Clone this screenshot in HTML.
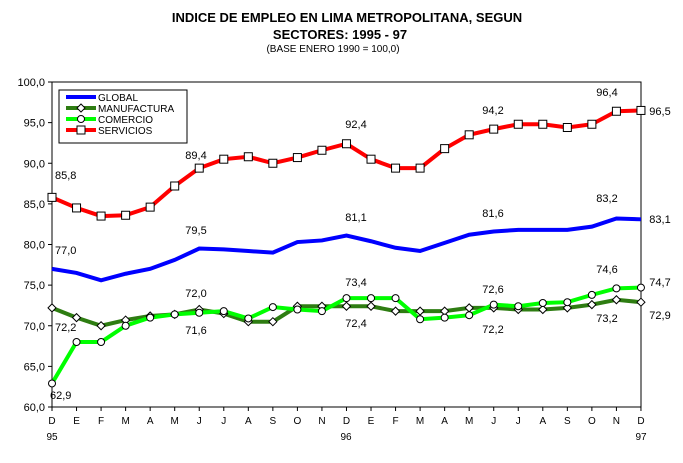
<!DOCTYPE html><html><head><meta charset="utf-8"><style>body{margin:0;background:#fff}svg{display:block;font-family:"Liberation Sans",sans-serif}</style></head><body>
<svg id="s" width="683" height="463" xmlns="http://www.w3.org/2000/svg">
<text x="347" y="22" font-size="13" font-weight="bold" text-anchor="middle">INDICE DE EMPLEO EN LIMA METROPOLITANA, SEGUN</text>
<text x="340" y="39" font-size="13" font-weight="bold" text-anchor="middle">SECTORES: 1995   - 97</text>
<text x="333" y="52" font-size="10" text-anchor="middle">(BASE ENERO 1990 = 100,0)</text>
<g id="g"></g>
</svg>
<script>
var g=document.getElementById('g'),h='';
function Y(v){return 407-(v-60)*8.125}
function X(i){return 52+i*24.54}
h+='<rect x="52" y="82" width="589" height="325" fill="none" stroke="#000" stroke-width="1"/>';
for(var v=60;v<=100;v+=5){var y=Y(v);h+='<line x1="48" x2="52" y1="'+y+'" y2="'+y+'" stroke="#000"/><text x="45" y="'+(y+4)+'" font-size="11" text-anchor="end">'+v.toFixed(1).replace('.',',')+'</text>';}
var L="DEFMAMJJASONDEFMAMJJASOND";
for(var i=0;i<25;i++){var x=X(i);h+='<line x1="'+x+'" x2="'+x+'" y1="407" y2="411" stroke="#000"/><text x="'+x+'" y="424" font-size="10" text-anchor="middle">'+L[i]+'</text>';}
h+='<text x="52" y="440" font-size="10" text-anchor="middle">95</text><text x="346" y="440" font-size="10" text-anchor="middle">96</text><text x="641" y="440" font-size="10" text-anchor="middle">97</text>';
var S=[85.8,84.5,83.5,83.6,84.6,87.2,89.4,90.5,90.8,90.0,90.7,91.6,92.4,90.5,89.4,89.4,91.8,93.5,94.2,94.8,94.8,94.4,94.8,96.4,96.5];
var G=[77.0,76.5,75.6,76.4,77.0,78.1,79.5,79.4,79.2,79.0,80.3,80.5,81.1,80.4,79.6,79.2,80.2,81.2,81.6,81.8,81.8,81.8,82.2,83.2,83.1];
var M=[72.2,71.0,70.0,70.7,71.2,71.4,72.0,71.5,70.5,70.5,72.4,72.4,72.4,72.4,71.8,71.8,71.8,72.2,72.2,72.0,72.0,72.2,72.6,73.2,72.9];
var C=[62.9,68.0,68.0,70.0,71.0,71.4,71.6,71.8,70.9,72.3,72.0,71.8,73.4,73.4,73.4,70.8,71.0,71.3,72.6,72.4,72.8,72.9,73.8,74.6,74.7];
function line(d,c){var p=d.map(function(v,i){return X(i)+','+Y(v)}).join(' ');return '<polyline points="'+p+'" fill="none" stroke="'+c+'" stroke-width="4"/>'}
function sq(x,y){return '<rect x="'+(x-4)+'" y="'+(y-4)+'" width="8" height="8" fill="#fff" stroke="#000"/>'}
function ci(x,y){return '<circle cx="'+x+'" cy="'+y+'" r="3.5" fill="#fff" stroke="#000"/>'}
function di(x,y){return '<polygon points="'+x+','+(y-4)+' '+(x+4)+','+y+' '+x+','+(y+4)+' '+(x-4)+','+y+'" fill="#fff" stroke="#000"/>'}
h+=line(G,'#0000ff')+line(M,'#2e7d12')+line(C,'#00ff00')+line(S,'#ff0000');
M.forEach(function(v,i){h+=di(X(i),Y(v))});C.forEach(function(v,i){h+=ci(X(i),Y(v))});S.forEach(function(v,i){h+=sq(X(i),Y(v))});
var lab=[[55,179,'85,8'],[55,254,'77,0'],[55,331,'72,2'],[50,399,'62,9'],[196,159,'89,4'],[196,234,'79,5'],[196,297,'72,0'],[196,334,'71,6'],[356,128,'92,4'],[356,221,'81,1'],[356,286,'73,4'],[356,327,'72,4'],[493,114,'94,2'],[493,217,'81,6'],[493,293,'72,6'],[493,333,'72,2'],[607,96,'96,4'],[607,202,'83,2'],[607,273,'74,6'],[607,322,'73,2'],[660,115,'96,5'],[660,223,'83,1'],[660,286,'74,7'],[660,319,'72,9']];
lab.forEach(function(a){h+='<text x="'+a[0]+'" y="'+a[1]+'" font-size="11" text-anchor="'+(a[0]<=55?'start':'middle')+'">'+a[2]+'</text>'});
h+='<rect x="59" y="90" width="128" height="53" fill="#fff" stroke="#000"/>';
var LG=[['GLOBAL','#0000ff',0],['MANUFACTURA','#2e7d12',1],['COMERCIO','#00ff00',2],['SERVICIOS','#ff0000',3]];
LG.forEach(function(a,k){var y=97+k*11;h+='<line x1="66" x2="96" y1="'+y+'" y2="'+y+'" stroke="'+a[1]+'" stroke-width="4"/>';if(k==1)h+=di(81,y);if(k==2)h+=ci(81,y);if(k==3)h+=sq(81,y);h+='<text x="98" y="'+(y+4)+'" font-size="10">'+a[0]+'</text>'});
g.innerHTML=h;
</script></body></html>
